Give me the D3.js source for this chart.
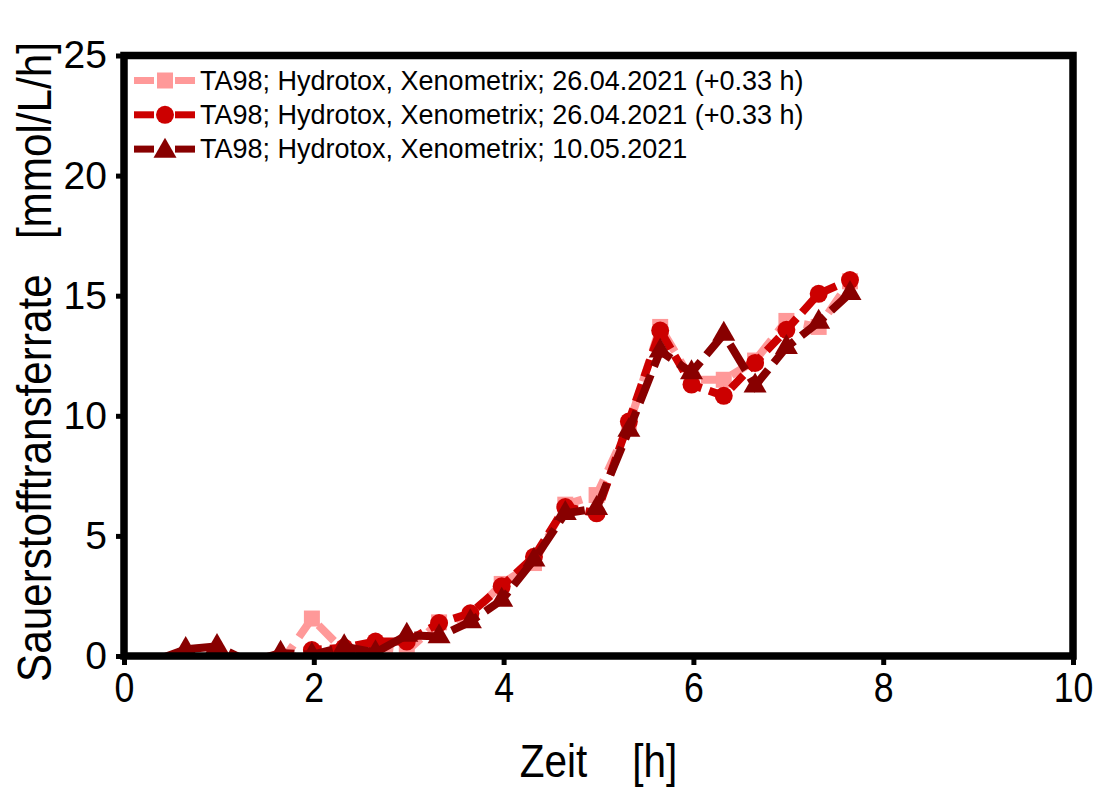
<!DOCTYPE html>
<html>
<head>
<meta charset="utf-8">
<script src="https://cdn.jsdelivr.net/npm/d3@7"></script>
<style>
  html, body { margin: 0; padding: 0; background: #fff; }
  svg { display: block; }
  text { font-family: "Liberation Sans", Arial, sans-serif; fill: #000; }
</style>
</head>
<body>
<svg id="chart" width="1103" height="789"></svg>
<script>
// Oxygen transfer rate over time, three runs
const hoursA = [1.65, 1.98, 2.32, 2.65, 2.98, 3.32, 3.65, 3.98, 4.32, 4.65, 4.98, 5.32, 5.65, 5.98, 6.32, 6.65, 6.98, 7.32, 7.65];
const otrA   = [-0.3, 1.56, 0.2, 0.35, 0.2, 1.4, 1.65, 3.0, 3.87, 6.3, 6.7, 9.6, 13.7, 11.5, 11.5, 12.3, 13.95, 13.7, 15.6];

const hoursB = [1.65, 1.98, 2.32, 2.65, 2.98, 3.32, 3.65, 3.98, 4.32, 4.65, 4.98, 5.32, 5.65, 5.98, 6.32, 6.65, 6.98, 7.32, 7.65];
const otrB   = [-0.3, 0.25, 0.35, 0.6, 0.6, 1.37, 1.78, 2.9, 4.13, 6.2, 5.94, 9.76, 13.55, 11.3, 10.83, 12.2, 13.58, 15.08, 15.65];

const hoursC = [0.32, 0.65, 0.98, 1.32, 1.65, 1.98, 2.32, 2.65, 2.98, 3.32, 3.65, 3.98, 4.32, 4.65, 4.98, 5.32, 5.65, 5.98, 6.32, 6.65, 6.98, 7.32, 7.65];
const otrC   = [-0.2, 0.28, 0.40, -0.25, 0.12, 0.05, 0.39, 0.14, 0.87, 0.81, 1.43, 2.33, 4.0, 5.94, 6.15, 9.4, 12.7, 11.8, 13.4, 11.25, 12.85, 13.9, 15.1];

const seriesNames = [
  "TA98; Hydrotox, Xenometrix; 26.04.2021 (+0.33 h)",
  "TA98; Hydrotox, Xenometrix; 26.04.2021 (+0.33 h)",
  "TA98; Hydrotox, Xenometrix; 10.05.2021"
];

const xTicks = [0, 2, 4, 6, 8, 10];
const yTicks = [0, 5, 10, 15, 20, 25];

const series = [
  { name: seriesNames[0], t: hoursA, v: otrA, color: "#ff9999", dash: "22,10", symbol: d3.symbolSquare, size: 256 },
  { name: seriesNames[1], t: hoursB, v: otrB, color: "#cc0000", dash: "18,8",  symbol: d3.symbolCircle, size: 254 },
  { name: seriesNames[2], t: hoursC, v: otrC, color: "#880000", dash: "30,9",  symbol: d3.symbolTriangle, size: 229 }
];

const svg = d3.select("#chart");
const plot = { left: 124, right: 1073, top: 55.5, bottom: 656 };

const x = d3.scaleLinear().domain([0, 10]).range([plot.left, plot.right]);
const y = d3.scaleLinear().domain([0, 25]).range([plot.bottom, plot.top]);

svg.append("defs").append("clipPath").attr("id", "plotClip")
  .append("rect")
  .attr("x", plot.left).attr("y", plot.top)
  .attr("width", plot.right - plot.left).attr("height", plot.bottom - plot.top);

// data layer: lines are clipped to the axes, markers outside the y range are skipped
const dataLayer = svg.append("g").attr("clip-path", "url(#plotClip)");
const line = d3.line().x(d => x(d[0])).y(d => y(d[1]));

series.forEach(s => {
  const pts = s.t.map((t, i) => [t, s.v[i]]);
  const g = dataLayer.append("g");
  g.append("path")
    .attr("d", line(pts))
    .attr("fill", "none")
    .attr("stroke", s.color)
    .attr("stroke-width", 8)
    .attr("stroke-dasharray", s.dash)
    .attr("stroke-linejoin", "miter");
  g.selectAll("path.mark").data(pts.filter(d => d[1] >= 0)).join("path")
    .attr("class", "mark")
    .attr("d", d3.symbol().type(s.symbol).size(s.size))
    .attr("transform", d => `translate(${x(d[0])},${y(d[1])})`)
    .attr("fill", s.color);
});

// axes
const xAxis = svg.append("g")
  .attr("transform", `translate(0,${plot.bottom})`)
  .call(d3.axisBottom(x).tickValues(xTicks).tickSize(9).tickPadding(7).tickFormat(d3.format("d")));
const yAxis = svg.append("g")
  .attr("transform", `translate(${plot.left},0)`)
  .call(d3.axisLeft(y).tickValues(yTicks).tickSize(8).tickPadding(9).tickFormat(d3.format("d")));

[xAxis, yAxis].forEach(a => {
  a.select(".domain").remove();
  a.selectAll(".tick line").attr("stroke", "#000").attr("stroke-width", 5);
});
xAxis.selectAll(".tick text")
  .attr("font-size", 42)
  .attr("font-family", "Liberation Sans, Arial, sans-serif")
  .attr("transform", "scale(0.85,1)");
yAxis.selectAll(".tick text")
  .attr("font-size", 39)
  .attr("font-family", "Liberation Sans, Arial, sans-serif");

// frame
svg.append("rect")
  .attr("x", plot.left).attr("y", plot.top)
  .attr("width", plot.right - plot.left).attr("height", plot.bottom - plot.top)
  .attr("fill", "none").attr("stroke", "#000").attr("stroke-width", 7.5);

// axis titles
svg.append("text")
  .attr("transform", `translate(${(plot.left + plot.right) / 2},777) scale(0.88,1)`)
  .attr("text-anchor", "middle")
  .attr("font-size", 46)
  .style("white-space", "pre")
  .text("Zeit    [h]");

svg.append("text")
  .attr("transform", "translate(51,362) rotate(-90) scale(0.88,1)")
  .attr("text-anchor", "middle")
  .attr("font-size", 48)
  .style("white-space", "pre")
  .text("Sauerstofftransferrate   [mmol/L/h]");

// legend
const legend = svg.append("g");
series.forEach((s, i) => {
  const cy = 80.5 + i * 34.3;
  const row = legend.append("g");
  row.append("line").attr("x1", 134).attr("x2", 154).attr("y1", cy).attr("y2", cy)
    .attr("stroke", s.color).attr("stroke-width", 7);
  row.append("line").attr("x1", 175).attr("x2", 195).attr("y1", cy).attr("y2", cy)
    .attr("stroke", s.color).attr("stroke-width", 7);
  row.append("path")
    .attr("d", d3.symbol().type(s.symbol).size(s.size))
    .attr("transform", `translate(165,${cy + (s.symbol === d3.symbolTriangle ? 2 : 0)})`)
    .attr("fill", s.color);
  row.append("text")
    .attr("x", 200).attr("y", cy + 9)
    .attr("font-size", 27)
    .text(s.name);
});
</script>
</body>
</html>
